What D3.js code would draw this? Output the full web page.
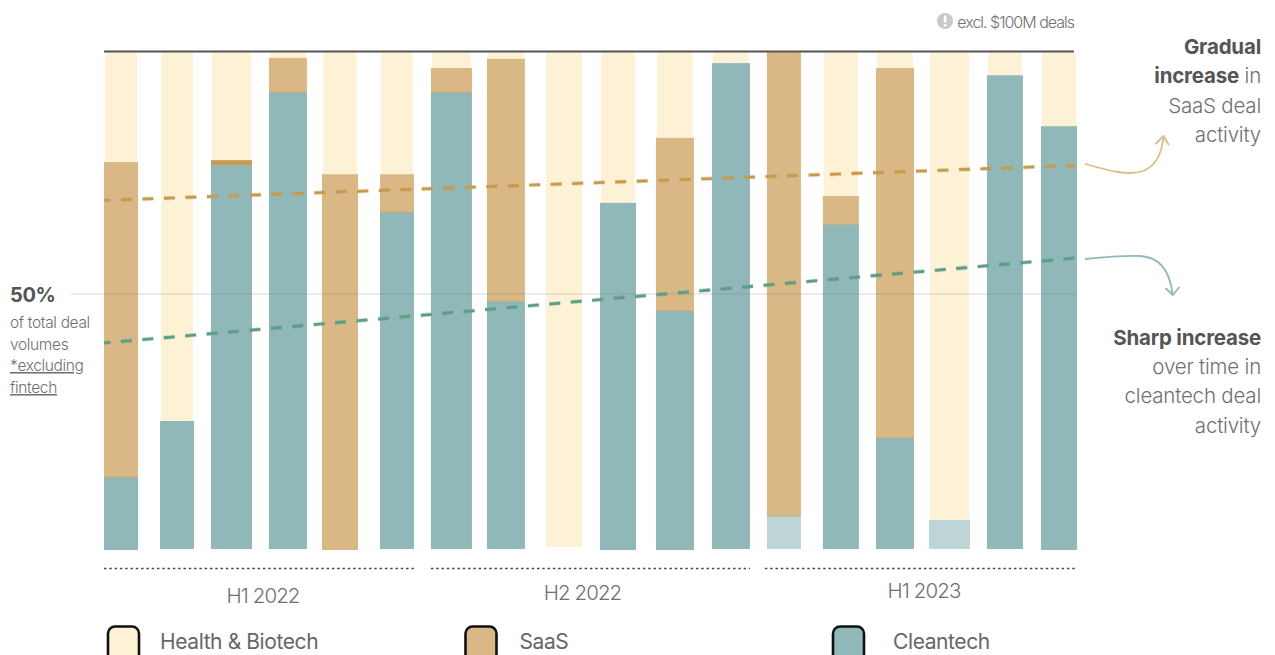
<!DOCTYPE html>
<html>
<head>
<meta charset="utf-8">
<script src="https://cdn.jsdelivr.net/npm/d3@7/dist/d3.min.js"></script>
<style>
  html, body { margin: 0; padding: 0; background: #fff; overflow: hidden; }
  svg { display: block; font-family: Inter, "Noto Sans", sans-serif; }
</style>
</head>
<body>
<svg id="chart" width="1275" height="655"></svg>
<script>
// Share of deal volume per period, percent of total (excluding fintech)
const cleantech = [14.1, 25.1, 76.6, 91.6, 0, 66.9, 91.6, 48.6, 0, 68.8, 46.7, 97.6, 6.5, 64.4, 21.8, 5.7, 95.1, 84.6];
const saas      = [63.1, 0, 1.0, 7.1, 74.7, 7.8, 5.0, 49.9, 0, 0, 35.5, 0, 93.5, 5.8, 74.8, 0, 0, 0];
const health    = [22.8, 74.9, 22.4, 1.3, 25.3, 25.3, 3.4, 1.5, 100, 31.2, 17.8, 2.4, 0, 29.8, 3.4, 94.3, 4.9, 15.4];

// Trend lines: start and end of the observed period
const saasTrend      = [69.3, 76.5];
const cleantechTrend = [40.4, 57.4];

const groupLabels = ["H1 2022", "H2 2022", "H1 2023"];
const groupSizes  = [6, 6, 6];
const legendLabels = ["Health & Biotech", "SaaS", "Cleantech"];
const excludedPeriods = [12, 15];   // cleantech drawn paler once $100M deals are removed

// Colours
const colHealth = "#FEF2D6", colSaas = "#D9B886", colClean = "#91B8B9", colCleanPale = "#BDD5D6";
const colSliver = "#C99B52", colSaasLine = "#C89A4E", colCleanLine = "#5C9E87";
const ink = "#555555", inkLight = "#707070";

// Slightly uneven, hand-cut look of the columns
const barWidths  = [34, 34, 41, 38, 36, 34, 41, 38, 38, 36, 38, 38, 34, 36, 38, 41, 36, 36];
const barNudges  = [0, 0.8, 0.1, 1.4, -1.7, 0.1, -0.6, -1.3, 1.6, 0.4, 2.2, 3, 0.8, 2.6, 1.5, 0.8, 1.1, 0];
const baseNudges = [1, 0, 0, 0, 1, 0, 0, 0, -2, 1, 1, 0, 0, 0, 0, 0, 0, 1];

const svg = d3.select("#chart");
const n = cleantech.length;

const x = d3.scalePoint().domain(d3.range(n)).range([121, 1059]);
const y = d3.scaleLinear().domain([0, 50, 100]).range([549, 294, 51.5]);
const barLeft  = i => x(i) + barNudges[i] - barWidths[i] / 2;
const barRight = i => barLeft(i) + barWidths[i];

// Stacked columns: cleantech at the base, SaaS above it, health & biotech on top
const bars = svg.append("g").selectAll("g").data(d3.range(n)).join("g");

bars.each(function (i) {
  const g = d3.select(this);
  const base = baseNudges[i];
  const cTop = cleantech[i], sTop = cTop + saas[i], hTop = sTop + health[i];

  if (health[i] > 0) {
    const l = barLeft(i) + 1, r = barRight(i) - 1, t = y(hTop) + 0.5, b = y(sTop) + (sTop === 0 ? base : 0), rad = 4;
    g.append("path")
      .attr("d", `M${l},${b}V${t + rad}Q${l},${t} ${l + rad},${t}H${r - rad}Q${r},${t} ${r},${t + rad}V${b}Z`)
      .attr("fill", colHealth);
  }
  if (saas[i] > 0) {
    g.append("rect")
      .attr("x", barLeft(i)).attr("width", barWidths[i])
      .attr("y", y(sTop)).attr("height", y(cTop) + (cTop === 0 ? base : 0) - y(sTop))
      .attr("fill", saas[i] < 2 ? colSliver : colSaas);
  }
  if (cTop > 0) {
    g.append("rect")
      .attr("x", barLeft(i)).attr("width", barWidths[i])
      .attr("y", y(cTop)).attr("height", y(0) + base - y(cTop))
      .attr("fill", excludedPeriods.includes(i) ? colCleanPale : colClean);
    if (saas[i] >= 2) {
      g.append("rect")
        .attr("x", barLeft(i)).attr("width", barWidths[i])
        .attr("y", y(cTop) - 0.5).attr("height", 1)
        .attr("fill", "#C4A878");
    }
  }
});

// Top rule at 100%
svg.append("line")
  .attr("x1", 104).attr("x2", 1074)
  .attr("y1", y(100)).attr("y2", y(100))
  .attr("stroke", ink).attr("stroke-width", 2);

// 50% reference line
svg.append("line")
  .attr("x1", 71).attr("x2", 1077)
  .attr("y1", y(50)).attr("y2", y(50))
  .attr("stroke", "#7a7a7a").attr("stroke-opacity", 0.2).attr("stroke-width", 1.6);

// Dashed trend lines with a soft halo
const trendX = d3.scaleLinear().domain([0, 1]).range([104, 1075]);
const trendLine = d3.line().x((d, i) => trendX(i)).y(d => y(d));
[[saasTrend, colSaasLine], [cleantechTrend, colCleanLine]].forEach(([values, colour]) => {
  svg.append("path").attr("d", trendLine(values))
    .attr("fill", "none").attr("stroke", colour).attr("stroke-opacity", 0.3)
    .attr("stroke-width", 4.4).attr("stroke-dasharray", "11 10.5").attr("stroke-dashoffset", 4.5);
  svg.append("path").attr("d", trendLine(values))
    .attr("fill", "none").attr("stroke", colour)
    .attr("stroke-width", 2.8).attr("stroke-dasharray", "11 10.5").attr("stroke-dashoffset", 4.5);
});

// Period groups: dotted rule and label
let start = 0;
const labelOffsets = [[3, 603], [-8, 600], [3, 598]];
const ruleEnds = [[0, 2], [0, 0], [-2, 0]];
groupSizes.forEach((size, g) => {
  const first = start, last = start + size - 1;
  const x1 = barLeft(first) + ruleEnds[g][0], x2 = barRight(last) + ruleEnds[g][1];
  svg.append("line")
    .attr("x1", x1).attr("x2", x2).attr("y1", 568.5).attr("y2", 568.5)
    .attr("stroke", "#444").attr("stroke-width", 1.6).attr("stroke-dasharray", "2.4 2.9");
  svg.append("text")
    .attr("x", (x1 + x2) / 2 + labelOffsets[g][0]).attr("y", labelOffsets[g][1])
    .attr("text-anchor", "middle")
    .attr("font-size", 20.5).attr("font-weight", 300).attr("letter-spacing", -0.9)
    .attr("fill", inkLight).text(groupLabels[g]);
  start += size;
});

// Legend
const legendSwatchX = [108, 465.5, 833];
const legendTextX = [160, 519.5, 893];
const legendFill = [colHealth, colSaas, colClean];
legendLabels.forEach((label, i) => {
  svg.append("rect")
    .attr("x", legendSwatchX[i]).attr("y", 626.5).attr("width", 31).attr("height", 40).attr("rx", 7)
    .attr("fill", legendFill[i]).attr("stroke", "#111").attr("stroke-width", 2.6);
  svg.append("text")
    .attr("x", legendTextX[i]).attr("y", 648.5)
    .attr("font-size", 21).attr("font-weight", 400).attr("letter-spacing", -0.4)
    .attr("fill", "#666").text(label);
});

// Left-hand note for the 50% line
svg.append("text").attr("x", 10).attr("y", 302)
  .attr("font-size", 20).attr("font-weight", 700).attr("letter-spacing", -0.4)
  .attr("fill", ink).text("50%");
[["of total deal", 328, false], ["volumes", 350, false], ["*excluding", 371, true], ["fintech", 393, true]]
  .forEach(([t, yy, underlined]) => {
    svg.append("text").attr("x", 10).attr("y", yy)
      .attr("font-size", 15.5).attr("font-weight", 300).attr("letter-spacing", -0.35)
      .attr("fill", inkLight).attr("text-decoration", underlined ? "underline" : null).text(t);
  });

// Exclusion note above the chart
svg.append("circle").attr("cx", 945).attr("cy", 21).attr("r", 8).attr("fill", "#C9C9C9");
svg.append("rect").attr("x", 943.8).attr("y", 15.5).attr("width", 2.6).attr("height", 7).attr("rx", 1).attr("fill", "#fff");
svg.append("circle").attr("cx", 945.1).attr("cy", 25.3).attr("r", 1.4).attr("fill", "#fff");
svg.append("text").attr("x", 1074).attr("y", 28).attr("text-anchor", "end")
  .attr("font-size", 16).attr("font-weight", 300).attr("letter-spacing", -1)
  .attr("fill", inkLight).text("excl. $100M deals");

// Right-hand annotations, right-aligned, with mixed weights
const noteLines = [
  [54,  [["Gradual", 700]]],
  [83,  [["increase", 700], [" in", 300]]],
  [113, [["SaaS deal", 300]]],
  [142, [["activity", 300]]],
  [345, [["Sharp increase", 700]]],
  [374, [["over time in", 300]]],
  [403, [["cleantech deal", 300]]],
  [433, [["activity", 300]]]
];
noteLines.forEach(([yy, runs]) => {
  const t = svg.append("text").attr("x", 1261).attr("y", yy).attr("text-anchor", "end")
    .attr("font-size", 20.5).attr("letter-spacing", -0.2).attr("xml:space", "preserve");
  runs.forEach(([s, w]) => {
    t.append("tspan").attr("font-weight", w).attr("fill", w > 400 ? ink : inkLight)
      .style("white-space", "pre").text(s);
  });
});

// Curved callout arrows
const arrowPaths = [
  ["M1085.5,164 C1110,171 1128,176 1143,171 C1156,166 1162,152 1163.5,137", "M1156,143.5 L1163.5,136 L1168.5,144.5", "#DCBD89"],
  ["M1085.5,259 C1105,257 1125,255.5 1140,256 C1160,257 1170,272 1172.5,294", "M1166,288.5 L1172.8,295 L1179,287.5", "#8FBBBD"]
];
arrowPaths.forEach(([curve, head, colour]) => {
  svg.append("path").attr("d", curve).attr("fill", "none").attr("stroke", colour).attr("stroke-width", 1.8).attr("stroke-linecap", "round");
  svg.append("path").attr("d", head).attr("fill", "none").attr("stroke", colour).attr("stroke-width", 1.8).attr("stroke-linecap", "round").attr("stroke-linejoin", "round");
});
</script>
</body>
</html>
